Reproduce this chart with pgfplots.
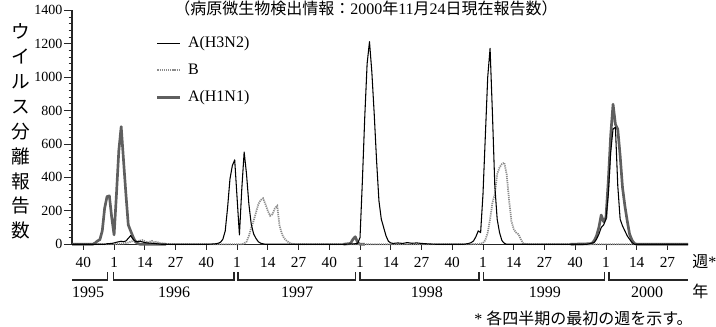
\documentclass[border=0pt]{standalone}
\usepackage{fontspec}
\setmainfont{Liberation Serif}
\newfontfamily\cjk{Noto Sans CJK JP}
\usepackage{pgfplots}
\pgfplotsset{compat=1.18}
\definecolor{hone}{RGB}{95,95,95}
\definecolor{bcol}{RGB}{140,140,140}
\tikzset{
  brk/.style={black!85, line width=0.8pt},
  yl/.style={anchor=base, font=\fontsize{12}{14}\selectfont, inner sep=0pt, yshift=-39.9pt},
}
\begin{document}
\begin{tikzpicture}
\begin{axis}[
  name=ax,
  scale only axis,
  width=462pt, height=175.5pt,
  xmin=-17.8, xmax=242.7,
  ymin=0, ymax=1400,
  axis x line*=bottom, axis y line*=left,
  axis line style={line width=0.8pt, black!85},
  clip=false,
  unbounded coords=jump,
  ytick={0,200,...,1400},
  minor y tick num=4,
  xtick={-13,0,...,234},
  xticklabels={40,1,14,27,40,1,14,27,40,1,14,27,40,1,14,27,40,1,14,27},
  tick align=outside,
  major tick length=6pt, minor tick length=2.5pt,
  xtick style={/pgfplots/major tick length=4pt},
  tick style={black!85, line width=0.6pt},
  /pgf/number format/assume math mode=true,
  /pgf/number format/1000 sep={},
  yticklabel style={font=\fontsize{10.5}{12}\selectfont, inner sep=1pt},
  xticklabel style={font=\fontsize{11.5}{13}\selectfont},
  legend style={at={(0.136,0.900)}, anchor=north west, draw=none, fill=none,
    inner sep=0pt, row sep=6.25pt, column sep=4pt,
    nodes={inner sep=1pt, text height=9pt, text depth=3pt},
    font=\fontsize{12}{14}\selectfont},
  legend cell align=left,
  legend image code/.code={\draw[#1] (0pt,0pt) -- (17pt,0pt);},
  reverse legend,
]
% A(H1N1)
\addplot[hone, line width=2pt, line join=round] coordinates {
(-17.8,0) (-9,0) (-8,8) (-7,20) (-6,28) (-5,80) (-4,215) (-3,285) (-2,290) (-1,160) (0,56)
(1,300) (2,560) (3,704) (4,500) (5,300) (6,116) (7,80) (8,45) (9,15) (10,5) (11,0) (22,0) (22,nan)
(97,nan) (97,0) (100,5) (101,30) (102,45) (103,10) (104,0) (106,0) (106,nan)
(193,nan) (193,0) (201,3) (202,5) (203,20) (204,50) (205,100) (206,175) (207,135) (208,160)
(209,380) (210,650) (211,838) (212,718) (213,688) (214,530) (215,340) (216,230) (217,140)
(218,60) (219,25) (220,5) (221,0) (242.7,0)
};
\addlegendentry{A(H1N1)}
% B
\addplot[bcol, line width=1.3pt, dash pattern=on 0.9pt off 0.7pt] coordinates {
(-17.8,0) (0,0) (2,3) (4,5) (6,10) (8,20) (9,22) (10,18) (11,22) (12,25) (13,18) (14,10)
(15,15) (16,20) (17,12) (18,15) (19,8) (21,3) (24,0)
(54,0) (55,5) (56,15) (57,50) (58,100) (59,140) (60,190) (61,240) (62,265) (63,275) (64,240)
(65,200) (66,170) (67,180) (68,215) (69,230) (70,110) (71,60) (72,35) (73,20) (74,10) (75,4) (77,0)
(150,0) (155,3) (156,8) (157,25) (158,70) (159,150) (160,250) (161,300) (162,420) (163,460)
(164,480) (165,488) (166,420) (167,270) (168,140) (169,90) (170,70) (171,60) (172,30) (173,5)
(175,0) (242.7,0)
};
\addlegendentry{B}
% A(H3N2)
\addplot[black, line width=0.8pt, line join=round] coordinates {
(-17.8,0) (-4,0) (-3,3) (-1,5) (0,8) (1,12) (2,15) (3,18) (4,15) (5,20) (6,35) (7,52) (8,30)
(9,18) (10,15) (11,18) (12,14) (13,10) (14,8) (16,6) (18,3) (20,0)
(40,0) (43,3) (44,6) (45,12) (46,30) (47,80) (48,220) (49,390) (50,470) (51,505) (52,280)
(53,56) (54,330) (55,552) (56,420) (57,240) (58,120) (59,62) (60,35) (61,15) (62,6) (64,0)
(98,0) (100,2) (102,3) (103,5) (104,40) (105,380) (106,760) (107,1080) (108,1212) (109,1030)
(110,780) (111,500) (112,260) (113,150) (114,100) (115,50) (116,18) (117,8) (118,5) (120,8)
(122,5) (124,10) (126,6) (128,8) (130,5) (132,3) (136,0)
(148,0) (150,5) (151,10) (152,20) (153,45) (154,80) (155,70) (156,300) (157,650) (158,1000)
(159,1172) (160,780) (161,350) (162,150) (163,70) (164,22) (165,6) (166,0)
(200,0) (203,10) (204,30) (205,60) (206,100) (207,115) (208,150) (209,300) (210,550) (211,690)
(212,700) (213,350) (214,150) (215,110) (216,80) (217,50) (218,30) (219,10) (220,0) (242.7,0)
};
\addlegendentry{A(H3N2)}
% year brackets
\draw[brk] ([yshift=-26.8pt]axis cs:-17.8,0) -- ([yshift=-26.8pt]axis cs:-2.96,0) -- ([yshift=-20.8pt]axis cs:-2.96,0);
\draw[brk] ([yshift=-20.8pt]axis cs:-0.4,0) -- ([yshift=-26.8pt]axis cs:-0.4,0) -- ([yshift=-26.8pt]axis cs:50.7,0) -- ([yshift=-20.8pt]axis cs:50.7,0);
\draw[brk] ([yshift=-20.8pt]axis cs:52.4,0) -- ([yshift=-26.8pt]axis cs:52.4,0) -- ([yshift=-26.8pt]axis cs:101.9,0) -- ([yshift=-20.8pt]axis cs:101.9,0);
\draw[brk] ([yshift=-20.8pt]axis cs:104,0) -- ([yshift=-26.8pt]axis cs:104,0) -- ([yshift=-26.8pt]axis cs:154.3,0) -- ([yshift=-20.8pt]axis cs:154.3,0);
\draw[brk] ([yshift=-20.8pt]axis cs:156.4,0) -- ([yshift=-26.8pt]axis cs:156.4,0) -- ([yshift=-26.8pt]axis cs:207.2,0) -- ([yshift=-20.8pt]axis cs:207.2,0);
\draw[brk] ([yshift=-20.8pt]axis cs:209.3,0) -- ([yshift=-26.8pt]axis cs:209.3,0) -- ([yshift=-26.8pt]axis cs:242.7,0);
\node[yl] at (axis cs:-11,0) {1995};
\node[yl] at (axis cs:25.4,0) {1996};
\node[yl] at (axis cs:77.4,0) {1997};
\node[yl] at (axis cs:132.3,0) {1998};
\node[yl] at (axis cs:182.2,0) {1999};
\node[yl] at (axis cs:225.4,0) {2000};
\end{axis}
\node[font=\cjk\fontsize{14}{18.7}\selectfont, align=center, inner sep=0pt]
  at ([xshift=-38.25pt,yshift=84.6pt]ax.south west) {ウ\\イ\\ル\\ス\\分\\離\\報\\告\\数};
\node[anchor=base, inner sep=0pt, font=\fontsize{12}{14}\selectfont]
  at ([xshift=220.5pt,yshift=172.6pt]ax.south west)
  {{\cjk （病原微生物検出情報：}2000{\cjk 年}11{\cjk 月}24{\cjk 日現在報告数）}};
\node[anchor=base west, inner sep=0pt, font=\fontsize{12}{14}\selectfont]
  at ([xshift=465pt,yshift=-17.5pt]ax.south west) {{\cjk 週}*};
\node[anchor=base west, inner sep=0pt, font=\fontsize{12}{14}\selectfont]
  at ([xshift=465pt,yshift=-40pt]ax.south west) {{\cjk 年}};
\node[anchor=base east, inner sep=0pt, font=\fontsize{12}{14}\selectfont]
  at ([xshift=465.75pt,yshift=-60.5pt]ax.south west) {* {\cjk 各四半期の最初の週を示す。}};
\pgfresetboundingbox
\useasboundingbox ([xshift=-54pt,yshift=-62pt]ax.south west) rectangle ([xshift=483pt,yshift=183.2pt]ax.south west);
\end{tikzpicture}
\end{document}
